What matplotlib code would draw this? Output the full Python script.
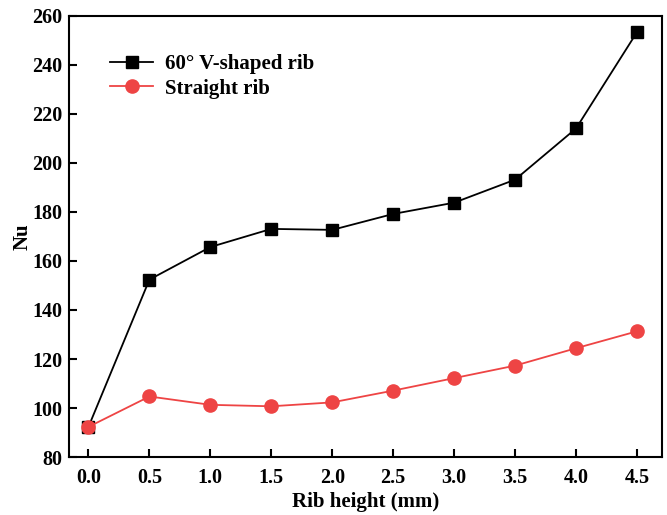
import matplotlib
matplotlib.use('Agg')
import matplotlib.pyplot as plt

# ── Data ──────────────────────────────────────────────────────────────────────
rib_height = [0.0, 0.5, 1.0, 1.5, 2.0, 2.5, 3.0, 3.5, 4.0, 4.5]
nu_v60     = [92.3, 152.4, 165.7, 173.1, 172.7, 179.2, 183.8, 193.2, 214.1, 253.4]
nu_straight = [92.3, 104.7, 101.3, 100.7, 102.3, 107.1, 112.2, 117.3, 124.4, 131.3]
x_ticks = [0.0, 0.5, 1.0, 1.5, 2.0, 2.5, 3.0, 3.5, 4.0, 4.5]
y_ticks = [80, 100, 120, 140, 160, 180, 200, 220, 240, 260]

plt.rcParams['font.family'] = ['Liberation Serif', 'DejaVu Serif']
plt.rcParams['font.weight'] = 'bold'

fig = plt.figure(figsize=(6.67, 5.15), dpi=100)
ax = fig.add_axes([0.1034, 0.1126, 0.8891, 0.8564])

ax.plot(rib_height, nu_v60, color='black', lw=1.3, marker='s', ms=8.5,
        label='60° V-shaped rib', zorder=3)
ax.plot(rib_height, nu_straight, color='#ee4444', lw=1.3, marker='o', ms=9.5,
        label='Straight rib', zorder=4)

ax.set_xlim(-0.16, 4.705)
ax.set_ylim(80, 260)
ax.set_xticks(x_ticks)
ax.set_xticklabels([f'{v:.1f}' for v in x_ticks])
ax.set_yticks(y_ticks)

ax.tick_params(direction='in', length=6, width=1.5, labelsize=14.5)
ax.tick_params(axis='x', pad=8)
ax.tick_params(axis='y', pad=5)
for s in ax.spines.values():
    s.set_linewidth(1.5)

ax.set_xlabel('Rib height (mm)', fontsize=15, fontweight='bold', labelpad=3)
ax.set_ylabel('Nu', fontsize=15, fontweight='bold', labelpad=-0.5)

leg = ax.legend(loc='upper left', bbox_to_anchor=(0.037, 0.956), frameon=False,
                fontsize=15, handlelength=2.1, handletextpad=0.55, labelspacing=0.22)

fig.savefig('out.png', dpi=100)
